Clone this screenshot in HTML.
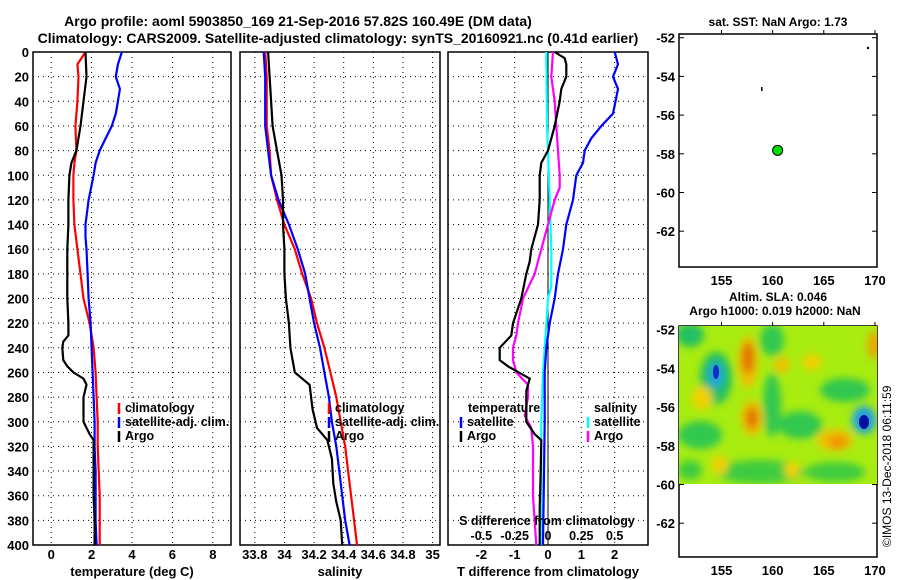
<!DOCTYPE html>
<html><head><meta charset="utf-8"><style>
html,body{margin:0;padding:0;background:#fff;}
svg{display:block;font-family:"Liberation Sans",sans-serif;font-weight:bold;}
</style></head><body>
<svg id="chart" width="900" height="580" viewBox="0 0 900 580" xmlns="http://www.w3.org/2000/svg">
<defs>
<filter id="blur" x="-50%" y="-50%" width="200%" height="200%"><feGaussianBlur stdDeviation="4"/></filter>
<clipPath id="mapclip"><rect x="679" y="326" width="198" height="158"/></clipPath>
</defs>
<text x="298" y="26" font-size="14" text-anchor="middle">Argo profile: aoml 5903850_169 21-Sep-2016 57.82S 160.49E (DM data)</text>
<text x="338" y="43" font-size="14" text-anchor="middle">Climatology: CARS2009. Satellite-adjusted climatology: synTS_20160921.nc (0.41d earlier)</text>
<g id="plots"></g>
<text x="778" y="26" font-size="12" text-anchor="middle">sat. SST: NaN Argo: 1.73</text>
<text x="778" y="301" font-size="12" text-anchor="middle">Altim. SLA: 0.046</text>
<text x="775" y="315" font-size="12" text-anchor="middle">Argo h1000: 0.019 h2000: NaN</text>
<g clip-path="url(#mapclip)">
<rect x="679" y="326" width="198" height="158" fill="#a8ec10"/>
<g filter="url(#blur)">
<ellipse cx="690" cy="335" rx="14" ry="12" fill="#20c060"/>
<ellipse cx="716" cy="378" rx="16" ry="26" fill="#20c060"/>
<ellipse cx="772" cy="340" rx="12" ry="16" fill="#30c850"/>
<ellipse cx="772" cy="405" rx="9" ry="32" fill="#30c850"/>
<ellipse cx="700" cy="435" rx="22" ry="14" fill="#30c850"/>
<ellipse cx="800" cy="425" rx="22" ry="14" fill="#30c850"/>
<ellipse cx="845" cy="390" rx="25" ry="12" fill="#30c850"/>
<ellipse cx="760" cy="472" rx="45" ry="12" fill="#40cc40"/>
<ellipse cx="835" cy="472" rx="30" ry="10" fill="#40cc40"/>
<ellipse cx="690" cy="470" rx="12" ry="10" fill="#40cc40"/>
<ellipse cx="748" cy="362" rx="10" ry="26" fill="#f0c000"/>
<ellipse cx="748" cy="358" rx="6" ry="16" fill="#e07000"/>
<ellipse cx="752" cy="418" rx="11" ry="18" fill="#f0c000"/>
<ellipse cx="752" cy="418" rx="6" ry="11" fill="#e07000"/>
<ellipse cx="835" cy="440" rx="18" ry="11" fill="#f0c000"/>
<ellipse cx="838" cy="442" rx="10" ry="6" fill="#f09000"/>
<ellipse cx="702" cy="398" rx="10" ry="12" fill="#f0d000"/>
<ellipse cx="782" cy="365" rx="8" ry="8" fill="#f0c000"/>
<ellipse cx="812" cy="362" rx="10" ry="8" fill="#f0d000"/>
<ellipse cx="874" cy="345" rx="6" ry="14" fill="#f0a000"/>
<ellipse cx="720" cy="465" rx="8" ry="10" fill="#f0d000"/>
<ellipse cx="792" cy="470" rx="8" ry="8" fill="#f0d000"/>
<ellipse cx="716" cy="375" rx="7" ry="13" fill="#20a0e0"/>
<ellipse cx="864" cy="420" rx="12" ry="14" fill="#20a0e0"/>
</g>
<ellipse cx="716" cy="372" rx="3" ry="7" fill="#1030c0"/>
<ellipse cx="864" cy="422" rx="5" ry="7" fill="#0010a0"/>
</g>
<text transform="translate(891,547) rotate(-90)" font-size="12" font-weight="normal">©IMOS 13-Dec-2018 06:11:59</text>
</svg>
<script>
// ---- data ----
const depthTicks = [0,20,40,60,80,100,120,140,160,180,200,220,240,260,280,300,320,340,360,380,400];
// Temperature panel
const tempTicks = [0,2,4,6,8];
const climTDepth = [0,10,20,40,60,80,90,100,120,140,160,180,200,220,240,260,280,300,320,340,360,380,400];
const climTValue = [1.7,1.3,1.35,1.3,1.2,1.25,1.15,1.1,1.1,1.15,1.3,1.45,1.6,1.9,2.1,2.2,2.25,2.3,2.3,2.35,2.4,2.4,2.4];
const satTDepth = [0,10,20,30,40,50,60,70,80,90,100,120,140,150,160,180,200,220,240,260,280,300,320,340,360,380,400];
const satTValue = [3.5,3.3,3.2,3.4,3.3,3.2,3.0,2.7,2.4,2.2,2.1,1.85,1.7,1.7,1.75,1.8,1.85,1.95,2.0,2.05,2.1,2.15,2.15,2.2,2.2,2.2,2.25];
const argoTDepth = [0,20,40,60,80,90,95,100,120,140,160,180,200,220,230,235,240,250,255,260,265,270,280,300,310,315,320,340,360,380,400];
const argoTValue = [1.7,1.75,1.6,1.45,1.25,1.0,0.95,0.9,0.85,0.85,0.8,0.8,0.8,0.85,0.85,0.6,0.55,0.6,0.8,1.1,1.6,1.75,1.6,1.6,1.9,2.1,2.1,2.1,2.1,2.15,2.15];
// Salinity panel
const salTicks = [33.8,34,34.2,34.4,34.6,34.8,35];
const salTickLabels = ["33.8","34","34.2","34.4","34.6","34.8","35"];
const climSDepth = [0,20,60,80,100,120,140,160,180,200,220,240,260,280,300,320,340,360,380,400];
const climSValue = [33.87,33.88,33.88,33.90,33.91,33.95,34.0,34.07,34.12,34.18,34.22,34.27,34.31,34.35,34.38,34.41,34.43,34.45,34.47,34.49];
const satSDepth = [0,20,40,60,80,100,120,140,160,180,200,220,240,260,280,300,320,340,360,380,400];
const satSValue = [33.86,33.87,33.87,33.87,33.89,33.91,33.96,34.03,34.09,34.14,34.17,34.2,34.24,34.27,34.3,34.32,34.35,34.37,34.39,34.41,34.44];
const argoSDepth = [0,20,40,60,80,100,120,140,160,180,200,220,240,260,270,290,305,315,330,350,365,380,400];
const argoSValue = [33.89,33.9,33.91,33.92,33.95,33.98,33.99,33.99,34.0,34.0,34.01,34.03,34.04,34.07,34.17,34.19,34.22,34.29,34.32,34.33,34.35,34.38,34.39];
// Difference panel (T units; S scaled x4)
const diffTicks = [-2,-1,0,1,2];
const sDiffTickValues = [-0.5,-0.25,0,0.25,0.5];
const sDiffTickLabels = ["-0.5","-0.25","0","0.25","0.5"];
const satTdDepth = [0,10,20,30,50,60,70,80,90,100,120,140,160,180,190,200,220,240,260,300,400];
const satTdValue = [2.0,2.1,1.95,2.1,1.95,1.6,1.3,1.1,1.05,0.85,0.75,0.55,0.45,0.3,0.25,0.2,0.05,-0.05,-0.1,-0.1,-0.15];
const satSdDepth = [0,60,80,120,160,190,200,240,260,300,400];
const satSdValue = [-0.05,-0.03,0.0,0.05,0.1,0.1,0.0,-0.1,-0.15,-0.2,-0.2];
const argoTdDepth = [0,5,10,20,30,40,60,80,90,100,120,140,160,170,180,200,220,230,240,250,255,265,275,300,310,315,340,370,400];
const argoTdValue = [0.2,0.5,0.55,0.55,0.4,0.35,0.2,0.0,-0.2,-0.25,-0.25,-0.3,-0.5,-0.55,-0.65,-0.8,-1.05,-1.1,-1.45,-1.45,-1.2,-0.55,-0.65,-0.65,-0.4,-0.2,-0.22,-0.25,-0.25];
const argoSdDepth = [0,20,40,60,80,100,110,120,140,160,180,200,220,230,240,250,260,270,280,295,305,320,360,400];
const argoSdValue = [0.15,0.1,0.2,0.25,0.3,0.35,0.35,0.2,0.0,-0.2,-0.4,-0.75,-0.9,-0.95,-1.05,-1.05,-0.95,-0.6,-0.6,-0.7,-0.5,-0.45,-0.45,-0.35];
// Maps
const latTicks = [-52,-54,-56,-58,-60,-62];
const lonTicks = [155,160,165,170];
const profileLon = [160.49];
const profileLat = [-57.82];

// ---- drawing ----
const NS = "http://www.w3.org/2000/svg";
const root = document.getElementById('plots');
function mk(tag, attrs, parent){const e=document.createElementNS(NS,tag);for(const k in attrs)e.setAttribute(k,attrs[k]);(parent||root).appendChild(e);return e;}
const PY0=52, PY1=545;
function yD(d){return PY0+(d/400)*(PY1-PY0);}
function makeX(x0,x1,v0,v1){return v=>x0+(v-v0)/(v1-v0)*(x1-x0);}

function panel(name,x0,x1,xs,ticks,labels,title,showDepth){
  const g=mk('g',{});
  
  
  depthTicks.forEach(d=>{
    const l=mk('line',{x1:x0,x2:x1,y1:yD(d),y2:yD(d),stroke:'#000','stroke-width':1,'stroke-dasharray':'1,4'},g);
    
    
    if(showDepth){
      const t=mk('text',{x:x0-4,y:yD(d)+5,'font-size':13,'text-anchor':'end'},g);
      t.textContent=d;
      
      
    }
  });
  ticks.forEach((v,i)=>{
    const x=xs(v);
    const l=mk('line',{x1:x,x2:x,y1:PY0,y2:PY1,stroke:'#000','stroke-width':1,'stroke-dasharray':'1,4'},g);
    
    
    const t=mk('text',{x:x,y:559,'font-size':13,'text-anchor':'middle'},g);
    t.textContent=labels?labels[i]:v;
    
    
  });
  const r=mk('rect',{x:x0,y:PY0,width:x1-x0,height:PY1-PY0,fill:'none',stroke:'#000','stroke-width':1.5},g);
  
  
  const tt=mk('text',{x:(x0+x1)/2,y:576,'font-size':13,'text-anchor':'middle'},g);
  tt.textContent=title;
  
  
  return g;
}
function series(g,xs,depths,vals,color,w,name){
  const pts=depths.map((d,i)=>xs(vals[i]).toFixed(1)+','+yD(d).toFixed(1)).join(' ');
  const p=mk('polyline',{points:pts,fill:'none',stroke:color,'stroke-width':w},g);
  
  
}
function legend(g,x,y,color,text,name){
  const m=mk('line',{x1:x,x2:x,y1:y-9,y2:y+2,stroke:color,'stroke-width':2.5},g);
  
  
  const t=mk('text',{x:x+6,y:y,'font-size':12.5},g);
  t.textContent=text;
  
  
}

// Temperature
const xT=makeX(33,231,-0.9,8.9);
const gT=panel('temperature-panel',33,231,xT,tempTicks,null,'temperature (deg C)',true);
series(gT,xT,climTDepth,climTValue,'#f00',2.2,'climatology-temp-line');
series(gT,xT,satTDepth,satTValue,'#00f',2.2,'satellite-temp-line');
series(gT,xT,argoTDepth,argoTValue,'#000',2.2,'argo-temp-line');
legend(gT,119,412,'#f00','climatology','legend-climatology');
legend(gT,119,426,'#00f','satellite-adj. clim.','legend-satellite');
legend(gT,119,440,'#000','Argo','legend-argo');

// Salinity
const xS=makeX(240,440,33.70,35.05);
const gS=panel('salinity-panel',240,440,xS,salTicks,salTickLabels,'salinity',false);
series(gS,xS,climSDepth,climSValue,'#f00',2.2,'climatology-salinity-line');
series(gS,xS,satSDepth,satSValue,'#00f',2.2,'satellite-salinity-line');
series(gS,xS,argoSDepth,argoSValue,'#000',2.2,'argo-salinity-line');
legend(gS,329,412,'#f00','climatology','legend-climatology');
legend(gS,329,426,'#00f','satellite-adj. clim.','legend-satellite');
legend(gS,329,440,'#000','Argo','legend-argo');

// Differences
const xD=makeX(448,648,-3,3);
const gD=panel('difference-panel',448,648,xD,diffTicks,null,'T difference from climatology',false);
const zl=mk('line',{x1:xD(0),x2:xD(0),y1:PY0,y2:PY1,stroke:'#000','stroke-width':1},gD);


series(gD,xD,satSdDepth,satSdValue,'#0ff',2.2,'satellite-salinity-diff-line');
series(gD,xD,argoSdDepth,argoSdValue,'#f0f',2.2,'argo-salinity-diff-line');
series(gD,xD,satTdDepth,satTdValue,'#00f',2.2,'satellite-temp-diff-line');
series(gD,xD,argoTdDepth,argoTdValue,'#000',2.2,'argo-temp-diff-line');
[['temperature',468],['salinity',594]].forEach(([s,x])=>{
  const t=mk('text',{x:x,y:412,'font-size':12.5},gD);t.textContent=s;
  
  
});
legend(gD,461,426,'#00f','satellite','legend-temp-satellite');
legend(gD,461,440,'#000','Argo','legend-temp-argo');
legend(gD,588,426,'#0ff','satellite','legend-sal-satellite');
legend(gD,588,440,'#f0f','Argo','legend-sal-argo');
const st=mk('text',{x:547,y:525,'font-size':12.5,'text-anchor':'middle'},gD);
st.textContent='S difference from climatology';


sDiffTickValues.forEach((v,i)=>{
  const t=mk('text',{x:xD(v*4),y:540,'font-size':12.5,'text-anchor':'middle'},gD);
  t.textContent=sDiffTickLabels[i];
  
  
});

// Maps
const lonX=makeX(679,877,150.85,170.2);
function mapAxes(name,top,bottom){
  const g=mk('g',{});
  
  
  const latY=v=>top+3.7+(-52-v)*19.35;
  const r=mk('rect',{x:679,y:top,width:198,height:bottom-top,fill:'none',stroke:'#000','stroke-width':1.5},g);
  
  
  latTicks.forEach(v=>{
    const y=latY(v);
    mk('line',{x1:679,x2:684,y1:y,y2:y,stroke:'#000'},g);
    mk('line',{x1:872,x2:877,y1:y,y2:y,stroke:'#000'},g);
    const t=mk('text',{x:675,y:y+5,'font-size':13,'text-anchor':'end'},g);
    t.textContent=v;
    
    
  });
  lonTicks.forEach(v=>{
    const x=lonX(v);
    mk('line',{x1:x,x2:x,y1:top,y2:top-4,stroke:'#000'},g);
    const t=mk('text',{x:x,y:bottom+18,'font-size':13,'text-anchor':'middle'},g);
    t.textContent=v;
    
    
  });
  return {g,latY};
}
const m1=mapAxes('sst-map',34,267);
profileLon.forEach((lo,i)=>{
  const c=mk('circle',{cx:lonX(lo),cy:m1.latY(profileLat[i]),r:5,fill:'#00dd00',stroke:'#000','stroke-width':1},m1.g);
  
  
});
mk('circle',{cx:868,cy:48,r:1.2,fill:'#000'},m1.g);
mk('rect',{x:761,y:87,width:1.5,height:4,fill:'#000'},m1.g);
const m2=mapAxes('sla-map',326,557);
profileLon.forEach((lo,i)=>{
  const c=mk('circle',{cx:lonX(lo),cy:m2.latY(profileLat[i]),r:5,fill:'none',stroke:'#000','stroke-width':1},m2.g);
  
  
});
mk('circle',{cx:868,cy:340,r:1.2,fill:'#000'},m2.g);
mk('rect',{x:761,y:378,width:1.5,height:4,fill:'#000'},m2.g);
</script>
</body></html>
